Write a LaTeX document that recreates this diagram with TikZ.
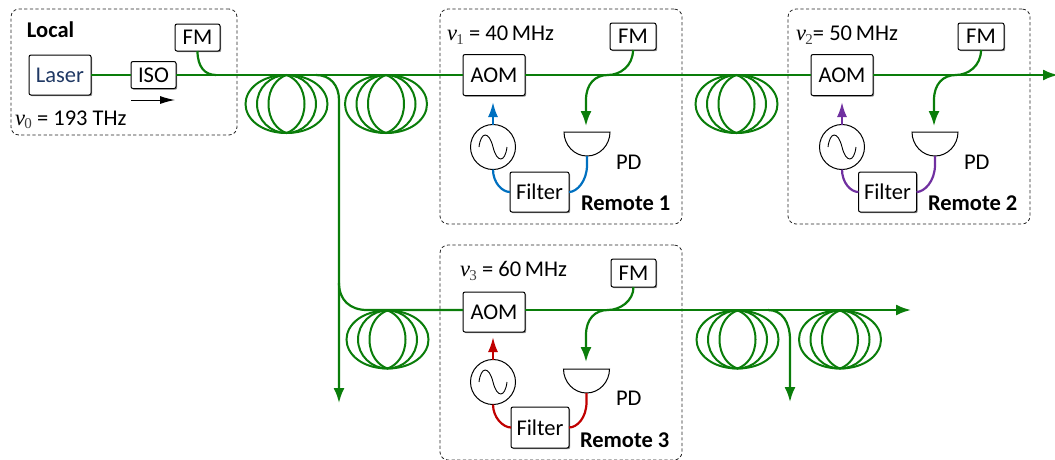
\documentclass[tikz,border=0pt]{standalone}
\usepackage{fontspec}
\setmainfont{Carlito}
\newfontfamily\nufont{Liberation Serif}
\usetikzlibrary{arrows.meta,shadows,calc}
\definecolor{fibergreen}{RGB}{10,125,10}
\definecolor{rfblue}{RGB}{0,112,192}
\definecolor{rfpurple}{RGB}{112,48,160}
\definecolor{rfred}{RGB}{192,0,0}
\definecolor{laserblue}{RGB}{31,56,100}
\newcommand{\nusym}[1]{{\nufont\itshape v}\kern-0.5pt\raisebox{-3.5pt}{\nufont\fontsize{15}{15}\selectfont\color{black!75}#1}}
\newcommand{\loopshape}[5]{%
  \draw[coilline] (#1) .. controls ($(#1)+(-#4,0)$) and ($(#1)+(-#2,13)$) .. ($(#1)+(-#2,29)$)
     .. controls ($(#1)+(-#2,45)$) and ($(#1)+(-#4,58)$) .. ($(#1)+(0,58)$)
     .. controls ($(#1)+(#5,58)$) and ($(#1)+(#3,45)$) .. ($(#1)+(#3,29)$)
     .. controls ($(#1)+(#3,13)$) and ($(#1)+(#5,0)$) .. cycle;}
\newcommand{\loopshapeR}[5]{%
  \draw[coilline] (#1) .. controls ($(#1)+(-#4,3)$) and ($(#1)+(-#2,13)$) .. ($(#1)+(-#2,29)$)
     .. controls ($(#1)+(-#2,45)$) and ($(#1)+(-#4,55)$) .. ($(#1)+(0,58)$)
     .. controls ($(#1)+(#5,58)$) and ($(#1)+(#3,44)$) .. ($(#1)+(#3,29)$)
     .. controls ($(#1)+(#3,14)$) and ($(#1)+(#5,0)$) .. cycle;}
\newcommand{\loopshapeL}[5]{%
  \draw[coilline] (#1) .. controls ($(#1)+(-#4,0)$) and ($(#1)+(-#2,14)$) .. ($(#1)+(-#2,29)$)
     .. controls ($(#1)+(-#2,44)$) and ($(#1)+(-#4,58)$) .. ($(#1)+(0,58)$)
     .. controls ($(#1)+(#5,55)$) and ($(#1)+(#3,45)$) .. ($(#1)+(#3,29)$)
     .. controls ($(#1)+(#3,13)$) and ($(#1)+(#5,3)$) .. cycle;}
\newcommand{\coil}[3]{%
  \coordinate (#1) at (#2,#3);
  \loopshapeL{#1}{41}{18}{25}{9}
  \loopshape{#1}{29.5}{29.5}{16}{16}
  \loopshapeR{#1}{18}{41}{9}{25}}
\newcommand{\sinewave}[1]{%
  \draw[line width=0.9pt] ($(#1.center)+(-14,0)$) .. controls ($(#1.center)+(-12,-16)$) and ($(#1.center)+(-4,-16)$) .. (#1.center) .. controls ($(#1.center)+(4,16)$) and ($(#1.center)+(12,16)$) .. ($(#1.center)+(14,0)$);}
\newcommand{\pdshape}[3]{%
  \coordinate (#1) at (#2,#3);
  \coordinate (#1b) at (#2,#3+24);
  \draw[line width=1pt,fill=white] ($(#1)+(-23,0)$) .. controls ($(#1)+(-23,13)$) and ($(#1)+(-12.7,24)$) .. (#1b) .. controls ($(#1)+(12.7,24)$) and ($(#1)+(23,13)$) .. ($(#1)+(23,0)$) -- cycle;}
\tikzset{
  x=1pt,y=-1pt,
  every node/.style={inner sep=0pt,outer sep=0pt,font=\fontsize{22.5}{25}\selectfont},
  dashbox/.style={draw=black!85,line width=0.8pt,dash pattern=on 3.2pt off 2.4pt,rounded corners=8pt},
  comp/.style={draw=black,line width=1pt,fill=white,rounded corners=2pt,
    drop shadow={shadow xshift=1.2pt,shadow yshift=-1.2pt,opacity=0.45,fill=black}},
  oscnode/.style={circle,draw=black,line width=1pt,fill=white,minimum size=45pt},
  coilline/.style={draw=fibergreen,line width=2pt},
  fiber/.style={draw=fibergreen,line width=2.2pt},
  fiberarrow/.style={fiber,-{Latex[length=15pt,width=11pt]}},
  rf/.style={line width=2.2pt},
  rfarrow/.style={rf,-{Latex[length=15pt,width=10pt]}},
  lab/.style={anchor=west},
  boldlab/.style={anchor=west,font=\fontsize{22.5}{25}\selectfont\bfseries},
}
\begin{document}
\begin{tikzpicture}
\useasboundingbox (0,0) rectangle (1055,459);
\clip (0,0) rectangle (1055,459);
% enclosures
\node[dashbox,minimum width=226pt,minimum height=126pt] (localbox) at (124,72) {};
\node[dashbox,minimum width=242pt,minimum height=215pt] (rem1box) at (561,116.5) {};
\node[dashbox,minimum width=242pt,minimum height=215pt] (rem2box) at (909,116.5) {};
\node[dashbox,minimum width=242pt,minimum height=215pt] (rem3box) at (561,352.5) {};
% coils (top point of each coil)
\coil{ca}{286.5}{75}
\coil{cb}{386}{75}
\coil{cc}{736.5}{75}
\coil{cd}{387.5}{310.5}
\coil{ce}{737.5}{310.5}
\coil{cf}{840}{310.5}
% components
\node[comp,minimum width=62pt,minimum height=40pt,text=laserblue] (laser) at (60,75) {Laser};
\node[comp,minimum width=45pt,minimum height=27pt] (iso) at (153.5,75) {ISO};
\node[comp,minimum width=45pt,minimum height=27pt] (fm0) at (197.5,37.5) {FM};
\node[comp,minimum width=62pt,minimum height=41pt] (aom1) at (494,75) {AOM};
\node[comp,minimum width=46pt,minimum height=27pt] (fm1) at (633,36.5) {FM};
\node[comp,minimum width=59pt,minimum height=40pt] (filt1) at (539.5,192) {Filter};
\node[oscnode] (osc1) at (493,147) {};
\node[comp,minimum width=62pt,minimum height=41pt] (aom2) at (842,75) {AOM};
\node[comp,minimum width=46pt,minimum height=27pt] (fm2) at (981,36.5) {FM};
\node[comp,minimum width=58pt,minimum height=40pt] (filt2) at (887.5,192) {Filter};
\node[oscnode] (osc2) at (842,147) {};
\node[comp,minimum width=62pt,minimum height=40pt] (aom3) at (494,312) {AOM};
\node[comp,minimum width=45pt,minimum height=28pt] (fm3) at (633.5,273) {FM};
\node[comp,minimum width=58pt,minimum height=41pt] (filt3) at (540,427.5) {Filter};
\node[oscnode] (osc3) at (493,382) {};
\sinewave{osc1}\sinewave{osc2}\sinewave{osc3}
\pdshape{pd1}{587}{132}
\pdshape{pd2}{935}{132}
\pdshape{pd3}{586.5}{369}
% free ends
\coordinate (j0) at (216,75);
\coordinate (j1) at (316,75);
\coordinate (down1) at (339,403);
\coordinate (j2) at (339,283);
\coordinate (r3start) at (367,310);
\coordinate (aom3in) at (aom3.west |- r3start);
\coordinate (aom3out) at (aom3.east |- r3start);
\coordinate (end2) at (1058,75);
\coordinate (end3) at (911,310);
\coordinate (j4) at (768,310);
\coordinate (down2) at (790,402);
% fibre
\draw[fiber] (laser) -- (iso);
\draw[fiber] (iso) -- (aom1);
\draw[fiber] (aom1) -- (aom2);
\draw[fiberarrow] (aom2) -- (end2);
\draw[fiber] (fm0.south) .. controls ($(fm0.south)+(0,16)$) and ($(j0)+(-11,0)$) .. (j0);
\draw[fiberarrow] (j1) .. controls +(14,0) and (339,85) .. (339,100) -- (down1);
\draw[fiber] (j2) .. controls +(0,17) and ($(r3start)+(-17,0)$) .. (r3start) -- (aom3in);
\draw[fiberarrow] (aom3out) -- (end3);
\draw[fiberarrow] (j4) .. controls +(14,0) and (790,322) .. (790,340) -- (down2);
\draw[fiberarrow] (fm1.south) .. controls +(0,16) and (620,75) .. (608,75) .. controls (595,75) and (586,84) .. (586,100) -- (586,126);
\draw[fiberarrow] (fm2.south) .. controls +(0,16) and (968,75) .. (956,75) .. controls (943,75) and (934,84) .. (934,100) -- (934,126);
\draw[fiberarrow] (fm3.south) .. controls +(0,14) and (620,310) .. (608,310) .. controls (595,310) and (586,319) .. (586,335) -- (586,362);
% rf
\draw[rfarrow,draw=rfblue,fill=rfblue] (osc1.north) -- (493,102);
\draw[rf,draw=rfblue] (osc1.south) .. controls +(0,13) and ($(filt1.west)+(-8,0)$) .. (filt1.west);
\draw[rf,draw=rfblue] (pd1b) -- +(0,9) .. controls +(0,16) and ($(filt1.east)+(8,0)$) .. (filt1.east);
\draw[rfarrow,draw=rfpurple,fill=rfpurple] (osc2.north) -- (842,102);
\draw[rf,draw=rfpurple] (osc2.south) .. controls +(0,13) and ($(filt2.west)+(-8,0)$) .. (filt2.west);
\draw[rf,draw=rfpurple] (pd2b) -- +(0,9) .. controls +(0,16) and ($(filt2.east)+(8,0)$) .. (filt2.east);
\draw[rfarrow,draw=rfred,fill=rfred] (osc3.north) -- (493,337);
\draw[rf,draw=rfred] (osc3.south) .. controls +(0,13) and ($(filt3.west)+(-8,0)$) .. (filt3.west);
\draw[rf,draw=rfred] (pd3b) -- +(0,9) .. controls +(0,16) and ($(filt3.east)+(8,0)$) .. (filt3.east);
% isolator direction
\coordinate (isoa) at (131,100);
\coordinate (isob) at (175,100);
\draw[line width=1pt,-{Latex[length=15pt,width=8pt]}] (isoa) -- (isob);
% labels
\node[boldlab] (llocal) at (27,30) {Local};
\node[lab] (lnu0) at (15,120) {\nusym{0} = 193 THz};
\node[lab] (lnu1) at (447,35) {\nusym{1} = 40\,MHz};
\node[lab] (lnu2) at (796,35) {\nusym{2}= 50\,MHz};
\node[lab] (lnu3) at (460,271) {\nusym{3} = 60\,MHz};
\node[lab] (lpd1) at (616,162) {PD};
\node[lab] (lpd2) at (964,162) {PD};
\node[lab] (lpd3) at (616,398) {PD};
\node[boldlab] (lr1) at (581,203) {Remote 1};
\node[boldlab] (lr2) at (928,203) {Remote 2};
\node[boldlab] (lr3) at (580,440) {Remote 3};
\end{tikzpicture}
\end{document}
